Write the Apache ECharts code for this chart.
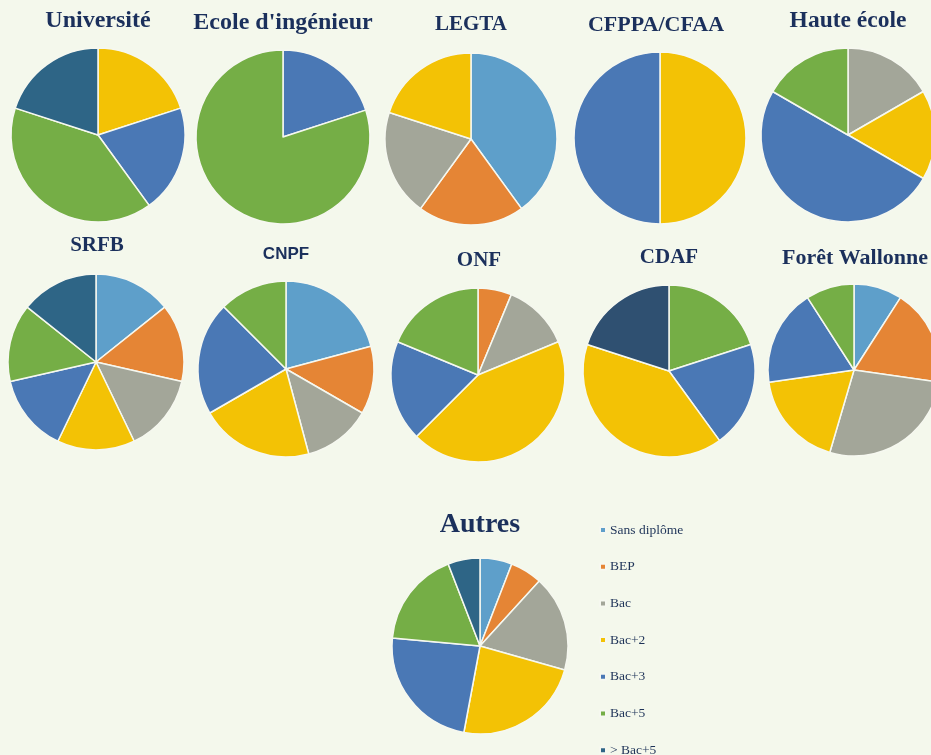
<!DOCTYPE html>
<html>
<head>
<meta charset="utf-8">
<script src="https://cdn.jsdelivr.net/npm/echarts@6/dist/echarts.min.js"></script>
<style>
html,body{margin:0;padding:0;background:#f4f8ec;}
#chart{width:931px;height:755px;}
</style>
</head>
<body>
<div id="chart"></div>
<script>
// ---- Data ----
const categories = ['Sans diplôme', 'BEP', 'Bac', 'Bac+2', 'Bac+3', 'Bac+5', '> Bac+5'];
const pieNames = ['Université', "Ecole d'ingénieur", 'LEGTA', 'CFPPA/CFAA', 'Haute école',
                  'SRFB', 'CNPF', 'ONF', 'CDAF', 'Forêt Wallonne', 'Autres'];
const universite = [0, 0, 0, 1, 1, 2, 1];
const ecoleIngenieur = [0, 0, 0, 0, 1, 4, 0];
const legta = [2, 1, 1, 1, 0, 0, 0];
const cfppa = [0, 0, 0, 1, 1, 0, 0];
const hauteEcole = [0, 0, 1, 1, 3, 1, 0];
const srfb = [1, 1, 1, 1, 1, 1, 1];
const cnpf = [5, 3, 3, 5, 5, 3, 0];
const onf = [0, 1, 2, 7, 3, 3, 0];
const cdaf = [0, 0, 0, 2, 1, 1, 1];
const foretWallonne = [1, 2, 3, 2, 2, 1, 0];
const autres = [1, 1, 3, 4, 4, 3, 1];
const allValues = [universite, ecoleIngenieur, legta, cfppa, hauteEcole, srfb, cnpf, onf, cdaf, foretWallonne, autres];
// slice order (clockwise from 12 o'clock) differs for CDAF
const defaultOrder = [0, 1, 2, 3, 4, 5, 6];
const cdafOrder = [5, 4, 3, 6, 0, 1, 2];
const orders = { 8: cdafOrder };

// ---- Styles / layout ----
const colors = ['#5e9fca', '#e58535', '#a3a699', '#f3c205', '#4a78b5', '#75ae46', '#2e6586'];
const colorOverrides = { 8: { 6: '#2f5071' } }; // CDAF uses a darker navy slice
const layout = [
  { c: [98, 135], r: 87, t: [98, 21], fs: 24 },
  { c: [283, 137], r: 87, t: [283, 23], fs: 24 },
  { c: [471, 139], r: 86, t: [471, 25], fs: 21 },
  { c: [660, 138], r: 86, t: [656, 25], fs: 22 },
  { c: [848, 135], r: 87, t: [848, 21], fs: 23.5 },
  { c: [96, 362], r: 88, t: [97, 246], fs: 21 },
  { c: [286, 369], r: 88, t: [286, 254], fs: 17, sans: true },
  { c: [478, 375], r: 87, t: [479, 261], fs: 21 },
  { c: [669, 371], r: 86, t: [669, 258], fs: 21 },
  { c: [854, 370], r: 86, t: [855, 258], fs: 22 },
  { c: [480, 646], r: 88, t: [480, 525], fs: 28 }
];
const titleColor = '#1b305c';

const chart = echarts.init(document.getElementById('chart'), null, { renderer: 'canvas' });

const titles = pieNames.map((name, i) => ({
  text: name,
  left: layout[i].t[0],
  top: layout[i].t[1],
  textAlign: 'center',
  textVerticalAlign: 'middle',
  padding: 0,
  textStyle: {
    fontFamily: layout[i].sans ? '"Liberation Sans", Arial, sans-serif' : '"Liberation Serif", "Times New Roman", serif',
    fontWeight: 'bold',
    fontSize: layout[i].fs,
    color: titleColor
  }
}));

const series = allValues.map((vals, i) => ({
  type: 'pie',
  name: pieNames[i],
  center: layout[i].c,
  radius: layout[i].r,
  startAngle: 90,
  clockwise: true,
  label: { show: false },
  labelLine: { show: false },
  emphasis: { disabled: true },
  silent: true,
  itemStyle: { borderColor: '#f6f8f0', borderWidth: 1.5 },
  data: (orders[i] || defaultOrder)
    .map(k => ({
      name: categories[k],
      value: vals[k],
      itemStyle: { color: (colorOverrides[i] && colorOverrides[i][k]) || colors[k] }
    }))
    .filter(d => d.value > 0)
}));

chart.setOption({
  backgroundColor: '#f4f8ec',
  animation: false,
  title: titles,
  legend: {
    orient: 'vertical',
    left: 599,
    top: 523,
    height: 300,
    padding: 0,
    icon: 'rect',
    itemWidth: 6,
    itemHeight: 6,
    itemGap: 22.7,
    selectedMode: false,
    data: categories,
    textStyle: {
      fontFamily: '"Liberation Serif", "Times New Roman", serif',
      fontSize: 13.5,
      lineHeight: 14,
      color: '#1e3358',
      padding: [0, 0, 0, -1]
    }
  },
  series: series
});
</script>
</body>
</html>
